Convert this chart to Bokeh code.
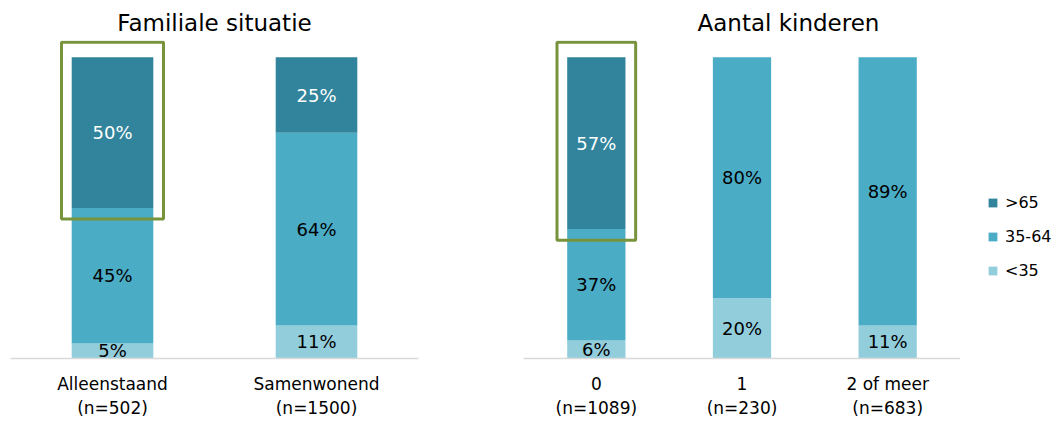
from bokeh.plotting import figure
from bokeh.layouts import row
from bokeh.models import ColumnDataSource, FactorRange, Range1d, Legend, LegendItem
from bokeh.core.properties import value
from bokeh.embed import file_html
from bokeh.resources import INLINE

# ---------------- data ----------------
series = ["<35", "35-64", ">65"]

fam_title = "Familiale situatie"
fam_cats = ["Alleenstaand", "Samenwonend"]
fam_n = [502, 1500]
fam_lt35 = [5, 11]
fam_35_64 = [45, 64]
fam_gt65 = [50, 25]
fam_highlight = ["Alleenstaand"]

kid_title = "Aantal kinderen"
kid_cats = ["0", "1", "2 of meer"]
kid_n = [1089, 230, 683]
kid_lt35 = [6, 20, 11]
kid_35_64 = [37, 80, 89]
kid_gt65 = [57, 0, 0]
kid_highlight = ["0"]

# ---------------- style ----------------
FONT = "DejaVu Sans"
COLORS = ["#92CDDC", "#4BACC6", "#31849B"]
TEXT_COLORS = ["black", "black", "white"]
BOX_COLOR = "#77933C"
AXIS_COLOR = "#D9D9D9"
Y_END = 105.6


def make_panel(title, cats, ns, lt35, mid, gt65, highlight, width, bl, br, box_w,
               title_align, title_offset):
    factors = [f"{c}\n(n={n})" for c, n in zip(cats, ns)]
    p = figure(x_range=FactorRange(*factors), y_range=Range1d(0, Y_END),
               width=width, height=421, output_backend="svg",
               toolbar_location=None, y_axis_location=None,
               min_border_left=bl, min_border_right=br,
               min_border_top=40, min_border_bottom=63)
    p.outline_line_color = None
    p.grid.visible = False
    p.background_fill_color = None
    p.border_fill_color = None

    p.title.text = title
    p.title.align = title_align
    p.title.offset = title_offset
    p.title.text_font = FONT
    p.title.text_font_size = "23px"
    p.title.text_font_style = "normal"
    p.title.text_color = "black"

    data = {"cat": factors, "<35": lt35, "35-64": mid, ">65": gt65}
    src = ColumnDataSource(data)
    p.vbar_stack(series, x="cat", width=0.4, source=src,
                 color=COLORS, line_color=None)

    # segment labels
    xs, ys, ts, cs = [], [], [], []
    for i, f in enumerate(factors):
        base = 0
        for j, vals in enumerate([lt35, mid, gt65]):
            v = vals[i]
            if v > 0:
                xs.append(f)
                ys.append(base + v / 2)
                ts.append(f"{v}%")
                cs.append(TEXT_COLORS[j])
            base += v
    p.text(x=xs, y=ys, text=ts, text_color=cs, text_align="center",
           text_baseline="middle", text_font=value(FONT), text_font_size="18px")

    # highlight boxes around the >65 segment
    bx, by, bh = [], [], []
    for i, c in enumerate(cats):
        if c in highlight:
            lo = lt35[i] + mid[i] - 3.7
            hi = lt35[i] + mid[i] + gt65[i] + 5.0
            bx.append(factors[i])
            by.append((lo + hi) / 2)
            bh.append(hi - lo)
    p.rect(x=bx, y=by, width=box_w, height=bh, fill_color=None,
           line_color=BOX_COLOR, line_width=3)

    ax = p.xaxis[0]
    ax.major_label_text_font = FONT
    ax.major_label_text_font_size = "17px"
    ax.major_label_text_color = "black"
    ax.major_label_standoff = 9
    ax.major_tick_line_color = None
    ax.minor_tick_line_color = None
    ax.axis_line_color = AXIS_COLOR
    ax.axis_line_width = 1.5
    return p


p1 = make_panel(fam_title, fam_cats, fam_n, fam_lt35, fam_35_64, fam_gt65,
                fam_highlight, 430, 10, 12, 0.5, "center", 0)
p2 = make_panel(kid_title, kid_cats, kid_n, kid_lt35, kid_35_64, kid_gt65,
                kid_highlight, 530, 93, 0, 0.54, "left", 174)

# legend panel
p3 = figure(width=98, height=421, output_backend="svg", toolbar_location=None,
            x_axis_location=None, y_axis_location=None,
            min_border_left=0, min_border_right=0, min_border_top=0,
            min_border_bottom=0, x_range=Range1d(0, 1), y_range=Range1d(0, 1))
p3.outline_line_color = None
p3.grid.visible = False
p3.background_fill_color = None
p3.border_fill_color = None
p3.title.visible = False
# invisible zero-size helper glyphs that only carry the legend colours
lrs = {s: p3.vbar(x=[0], top=[0], width=0, color=c, line_color=None)
       for s, c in zip(series, COLORS)}
items = [LegendItem(label=s, renderers=[lrs[s]]) for s in series[::-1]]
legend = Legend(items=items, location=(27, 77), orientation="vertical",
                padding=0, margin=0, border_line_color=None,
                background_fill_alpha=0, glyph_width=11, glyph_height=11,
                label_height=22, spacing=12, label_standoff=7,
                label_text_font=FONT, label_text_font_size="16px",
                label_text_color="black")
p3.add_layout(legend, "center")

layout = row(p1, p2, p3, spacing=0)
open("out.html", "w").write(file_html(layout, INLINE))
